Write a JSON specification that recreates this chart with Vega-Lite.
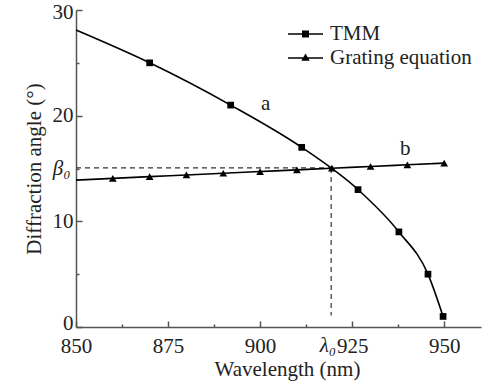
{
  "$schema": "https://vega.github.io/schema/vega-lite/v6.json",
  "width": 405,
  "height": 317,
  "autosize": {"type": "none"},
  "padding": {"left": 76, "top": 10, "right": 2, "bottom": 58},
  "config": {
    "view": {"stroke": null},
    "font": "Times New Roman, Liberation Serif, serif",
    "axis": {
      "domainColor": "#555555",
      "domainWidth": 1.5,
      "tickColor": "#555555",
      "tickWidth": 1.5,
      "labelColor": "#222222",
      "titleColor": "#222222",
      "labelFont": "Times New Roman, Liberation Serif, serif",
      "titleFont": "Times New Roman, Liberation Serif, serif",
      "labelFontSize": 21,
      "titleFontSize": 21,
      "titleFontWeight": "normal",
      "grid": false
    }
  },
  "datasets": {
    "curves": [
      {"series": "TMM", "wavelength": 850, "angle": 28.1, "marker": false},
      {"series": "TMM", "wavelength": 870, "angle": 25.0, "marker": true},
      {"series": "TMM", "wavelength": 892, "angle": 21.0, "marker": true},
      {"series": "TMM", "wavelength": 911.3, "angle": 17.0, "marker": true},
      {"series": "TMM", "wavelength": 926.6, "angle": 13.0, "marker": true},
      {"series": "TMM", "wavelength": 937.7, "angle": 9.0, "marker": true},
      {"series": "TMM", "wavelength": 945.6, "angle": 5.0, "marker": true},
      {"series": "TMM", "wavelength": 949.7, "angle": 1.0, "marker": true},
      {"series": "Grating equation", "wavelength": 850, "angle": 13.9, "marker": false},
      {"series": "Grating equation", "wavelength": 860, "angle": 14.07, "marker": true},
      {"series": "Grating equation", "wavelength": 870, "angle": 14.23, "marker": true},
      {"series": "Grating equation", "wavelength": 880, "angle": 14.39, "marker": true},
      {"series": "Grating equation", "wavelength": 890, "angle": 14.55, "marker": true},
      {"series": "Grating equation", "wavelength": 900, "angle": 14.71, "marker": true},
      {"series": "Grating equation", "wavelength": 910, "angle": 14.87, "marker": true},
      {"series": "Grating equation", "wavelength": 919.5, "angle": 15.03, "marker": true},
      {"series": "Grating equation", "wavelength": 930, "angle": 15.19, "marker": true},
      {"series": "Grating equation", "wavelength": 940, "angle": 15.35, "marker": true},
      {"series": "Grating equation", "wavelength": 950, "angle": 15.51, "marker": true}
    ],
    "dashes": [
      {"wavelength": 850, "wavelength2": 919.3, "angle": 15.05, "angle2": 15.05},
      {"wavelength": 919.3, "wavelength2": 919.3, "angle": 15.05, "angle2": 1.1}
    ],
    "labels": [
      {"text": "a", "wavelength": 901.5, "angle": 21.1},
      {"text": "b", "wavelength": 939.4, "angle": 16.8}
    ],
    "xlabels": [
      {"text": "λ₀", "wavelength": 919.3, "angle": 0}
    ]
  },
  "resolve": {"scale": {"shape": "independent", "size": "independent"}},
  "layer": [
    {
      "data": {"name": "dashes"},
      "mark": {"type": "rule", "strokeDash": [5, 4], "strokeWidth": 1.2, "color": "#333333"},
      "encoding": {
        "x": {
          "field": "wavelength", "type": "quantitative",
          "scale": {"domain": [850, 960], "nice": false, "zero": false},
          "axis": {
            "title": "Wavelength (nm)",
            "values": [850, 862.5, 875, 887.5, 900, 912.5, 925, 937.5, 950],
            "labelExpr": "datum.value % 25 == 0 ? datum.label : ''",
            "format": "d",
            "tickSize": {"condition": {"test": "datum.value % 25 != 0", "value": -3}, "value": -6},
            "labelPadding": 14,
            "labelFlush": false,
            "titlePadding": 2,
            "titleX": 211
          }
        },
        "x2": {"field": "wavelength2"},
        "y": {
          "field": "angle", "type": "quantitative",
          "scale": {"domain": [0, 30], "nice": false},
          "axis": {
            "title": "Diffraction angle (°)",
            "values": [0, 5, 10, 15, 20, 25, 30],
            "labelExpr": "datum.value == 15 ? 'β₀' : (datum.value % 10 == 0 ? datum.label : '')",
            "labelFontStyle": {"condition": {"test": "datum.value == 15", "value": "italic"}, "value": "normal"},
            "labelOffset": {"condition": [{"test": "datum.value == 30", "value": 2}, {"test": "datum.value == 0", "value": -4}], "value": 0},
            "tickSize": {"condition": {"test": "datum.value % 10 != 0", "value": -3}, "value": -6},
            "labelPadding": 9,
            "labelFlush": false,
            "titlePadding": 8
          }
        },
        "y2": {"field": "angle2"}
      }
    },
    {
      "data": {"name": "curves"},
      "mark": {"type": "line", "interpolate": "monotone", "color": "black", "strokeWidth": 1.6},
      "encoding": {
        "x": {"field": "wavelength", "type": "quantitative"},
        "y": {"field": "angle", "type": "quantitative"},
        "detail": {"field": "series"}
      }
    },
    {
      "data": {"name": "curves"},
      "transform": [{"filter": "datum.marker"}],
      "mark": {"type": "point", "filled": true, "color": "black", "opacity": 1},
      "encoding": {
        "x": {"field": "wavelength", "type": "quantitative"},
        "y": {"field": "angle", "type": "quantitative"},
        "shape": {
          "field": "series", "type": "nominal",
          "scale": {"domain": ["TMM", "Grating equation"], "range": ["square", "triangle-up"]},
          "legend": null
        },
        "size": {
          "field": "series", "type": "nominal",
          "scale": {"domain": ["TMM", "Grating equation"], "range": [45, 60]},
          "legend": null
        }
      }
    },
    {
      "data": {"name": "curves"},
      "transform": [{"filter": "datum.marker"}],
      "mark": {"type": "point", "filled": true, "color": "black", "opacity": 0},
      "encoding": {
        "x": {"field": "wavelength", "type": "quantitative"},
        "y": {"field": "angle", "type": "quantitative"},
        "shape": {
          "field": "series", "type": "nominal",
          "scale": {
            "domain": ["TMM", "Grating equation"],
            "range": [
              "M-1,-0.045H1V0.045H-1ZM-0.2,-0.2H0.2V0.2H-0.2Z",
              "M-1,-0.045H1V0.045H-1ZM0,-0.26L0.24,0.16H-0.24Z"
            ]
          },
          "legend": {
            "title": null,
            "orient": "none",
            "legendX": 212,
            "legendY": 13,
            "symbolSize": 1225,
            "symbolOpacity": 1,
            "symbolFillColor": "black",
            "symbolStrokeWidth": 0,
            "clipHeight": 22,
            "rowPadding": 2,
            "labelOffset": 7,
            "labelFontSize": 21,
            "labelColor": "#222222",
            "padding": 0
          }
        }
      }
    },
    {
      "data": {"name": "labels"},
      "mark": {"type": "text", "fontSize": 21, "color": "#222222", "align": "center", "baseline": "middle"},
      "encoding": {
        "x": {"field": "wavelength", "type": "quantitative"},
        "y": {"field": "angle", "type": "quantitative"},
        "text": {"field": "text"}
      }
    },
    {
      "data": {"name": "xlabels"},
      "mark": {"type": "text", "fontSize": 21, "fontStyle": "italic", "color": "#222222", "align": "right", "baseline": "middle", "dx": 5, "dy": 19},
      "encoding": {
        "x": {"field": "wavelength", "type": "quantitative"},
        "y": {"field": "angle", "type": "quantitative"},
        "text": {"field": "text"}
      }
    }
  ]
}
